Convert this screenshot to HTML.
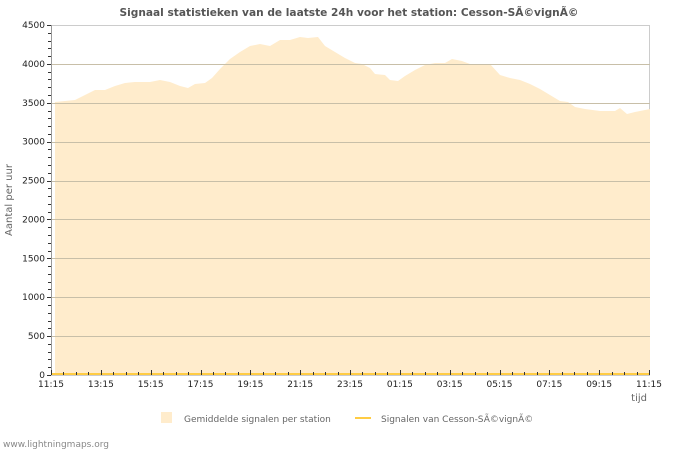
<!DOCTYPE html>
<html><head><meta charset="utf-8"><style>
body{margin:0;background:#fff;}
svg{display:block;font-family:"DejaVu Sans","Liberation Sans",sans-serif;}
</style></head><body>
<svg width="700" height="450" viewBox="0 0 700 450">
<rect x="0" y="0" width="700" height="450" fill="#fff"/>
<text x="349" y="16" text-anchor="middle" font-size="10.6" font-weight="bold" fill="#555">Signaal statistieken van de laatste 24h voor het station: Cesson-SÃ©vignÃ©</text>
<rect x="51.5" y="25.5" width="598" height="350" fill="none" stroke="#ccc"/>
<polygon fill="#ffeccc" points="55,375 55,102 65,101 75,100 85,95 95,90 105,90 115,86 125,83 135,82 150,82 160,80 170,82 180,86 188,88 195,84 205,83 212,78 220,69 230,59 240,52 250,46 260,44 270,46 280,40 290,40 300,37 308,38 318,37 325,46 335,52 345,58 355,63 362,64 370,68 375,74 385,75 390,80 398,81 405,76 415,70 425,65 435,63 445,63 452,59 462,61 470,64 490,64 500,75 510,78 520,80 530,84 540,89 550,95 560,101 568,102 575,107 585,109 600,111 615,111 620,108 627,114 635,112 645,110 650,109 650,375"/>
<g stroke="#c8bfa8" stroke-width="1">
<line x1="52" x2="650" y1="64.5" y2="64.5"/><line x1="52" x2="650" y1="103.5" y2="103.5"/><line x1="52" x2="650" y1="142.5" y2="142.5"/><line x1="52" x2="650" y1="181.5" y2="181.5"/><line x1="52" x2="650" y1="219.5" y2="219.5"/><line x1="52" x2="650" y1="258.5" y2="258.5"/><line x1="52" x2="650" y1="297.5" y2="297.5"/><line x1="52" x2="650" y1="336.5" y2="336.5"/>
</g>
<line x1="52" x2="650" y1="374" y2="374" stroke="#ffcc44" stroke-width="2"/>
<line x1="51.5" x2="51.5" y1="25" y2="375" stroke="#999"/>
<g id="yt" stroke="#333"></g>
<g id="xt" stroke="#333"></g>
<g font-size="9" fill="#222" text-anchor="end" id="yl"></g>
<g font-size="9" fill="#222" text-anchor="middle" id="xl"></g>
<text x="12" y="200" font-size="10" fill="#666" text-anchor="middle" transform="rotate(-90 12 200)">Aantal per uur</text>
<text x="647" y="401" font-size="10" fill="#666" text-anchor="end">tijd</text>
<rect x="161" y="412" width="11" height="11" fill="#ffeccc"/>
<text x="184" y="422" font-size="9" fill="#666">Gemiddelde signalen per station</text>
<line x1="355" x2="371" y1="418" y2="418" stroke="#ffcc44" stroke-width="2"/>
<text x="381" y="422" font-size="9" fill="#666">Signalen van Cesson-SÃ©vignÃ©</text>
<text x="3" y="447" font-size="9" fill="#888">www.lightningmaps.org</text>
<script>
var ns="http://www.w3.org/2000/svg";
function el(p,t,a,txt){var e=document.createElementNS(ns,t);for(var k in a)e.setAttribute(k,a[k]);if(txt)e.textContent=txt;document.getElementById(p).appendChild(e);}
for(var v=0;v<=4500;v+=100){var y=375-v*350/4500;var maj=v%500==0;el('yt','line',{x1:maj?47:48,x2:51,y1:Math.round(y)+0.5,y2:Math.round(y)+0.5});if(maj)el('yl','text',{x:45,y:y+3},String(v));}
var labs=["11:15","13:15","15:15","17:15","19:15","21:15","23:15","01:15","03:15","05:15","07:15","09:15","11:15"];
for(var i=0;i<=48;i++){var x=51+i*598/48;var maj=i%4==0;el('xt','line',{x1:Math.round(x)+0.5,x2:Math.round(x)+0.5,y1:maj?370:372,y2:375});if(maj)el('xl','text',{x:x,y:387},labs[i/4]);}
</script>
</svg>
</body></html>
